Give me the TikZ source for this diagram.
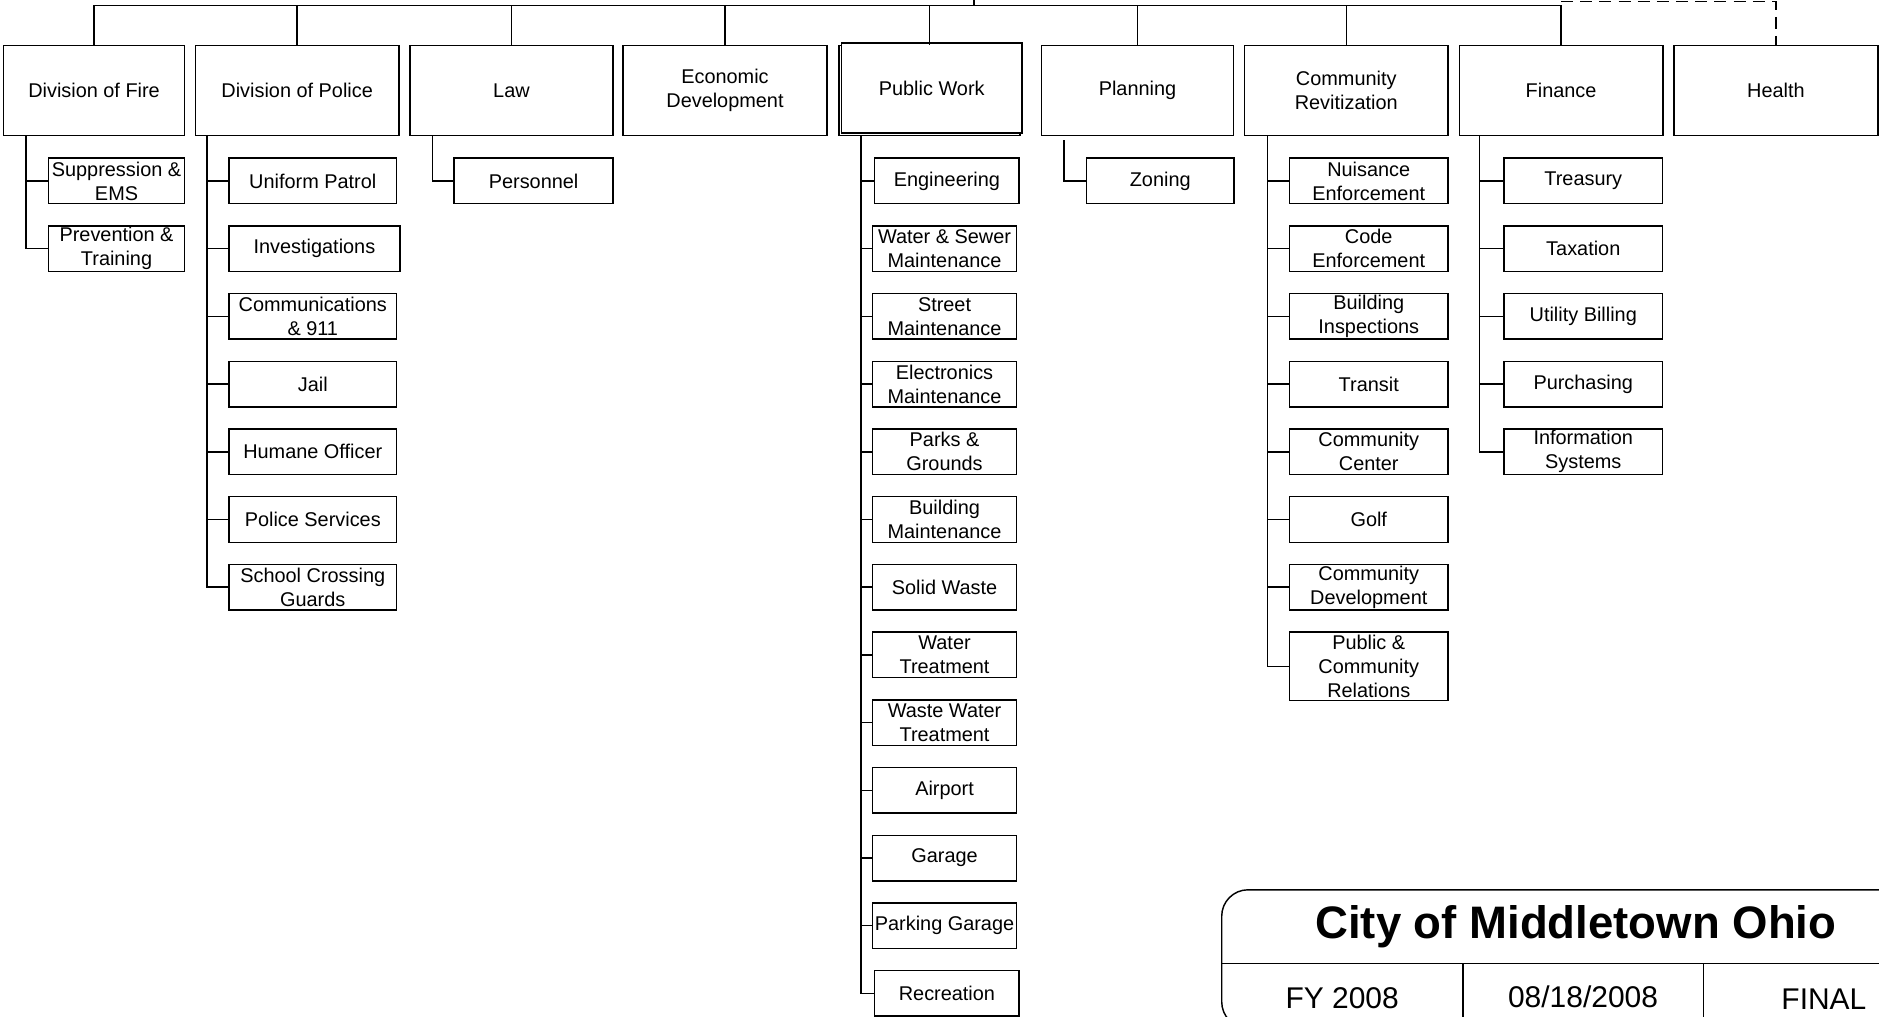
\documentclass[tikz,border=0pt]{standalone}
\usepackage{fontspec}
\setmainfont{Liberation Sans}
\begin{document}
\begin{tikzpicture}[x=0.5pt,y=-0.5pt, line width=0.6pt,
  every node/.style={inner sep=0pt, align=center, font=\fontsize{8.3}{10}\selectfont},
  topbox/.style={draw, minimum height=37.5pt, fill=white},
  subbox/.style={draw, minimum height=19pt},
  fires/.style={subbox, minimum width=56.75pt},
  pols/.style={subbox, minimum width=70pt},
  pws/.style={subbox, minimum width=60.25pt},
  crs/.style={subbox, minimum width=66.25pt},
  fins/.style={subbox, minimum width=66.25pt},
  dashlink/.style={dash pattern=on 5pt off 3pt}]
\useasboundingbox (0,0) rectangle (1568,848);
\clip (0,0) rectangle (1568,848);

% top level
\node[topbox, minimum width=75.5pt] (fire) at (78.5,75.5) {Division of Fire};
\node[topbox, minimum width=85pt] (police) at (248,75.5) {Division of Police};
\node[topbox, minimum width=84.8pt] (law) at (426.8,75.5) {Law};
\node[topbox, minimum width=85pt] (econ) at (605,75.5) {Economic\\Development};
\node[topbox, minimum width=75.5pt] (pwback) at (775.5,75.5) {};
\node[topbox, minimum width=75.5pt] (pw) at (777.5,73.5) {Public Work};
\node[topbox, minimum width=80.25pt] (planning) at (949.2,75.5) {Planning};
\node[topbox, minimum width=85pt] (comrev) at (1123.4,75.5) {Community\\Revitization};
\node[topbox, minimum width=85pt] (finance) at (1302.7,75.5) {Finance};
\node[topbox, minimum width=85pt] (health) at (1482,75.5) {Health};

% bus
\coordinate (root) at (812.8,0);
\coordinate (bus) at (812.8,4.5);
\coordinate (dashy) at (1302.7,1.3);
\draw (root) -- (bus);
\draw (fire.north |- bus) -- (finance.north |- bus);
\foreach \n in {fire,police,law,econ,pwback,planning,comrev,finance}
  \draw (\n.north |- bus) -- (\n.north);
\draw[dashlink] (finance.north |- dashy) -| (health.north);

% fire
\node[fires] (sup) at (97.25,151) {Suppression \&\\EMS};
\node[fires] (prev) at (97.25,207.5) {Prevention \&\\Training};
\coordinate (fireB) at (21.8,113);
\foreach \c in {sup,prev} \draw (fireB) |- (\c.west);

% police
\node[pols] (up) at (261,151) {Uniform Patrol};
\node[subbox, minimum width=71.4pt] (inv) at (262.4,207.5) {Investigations};
\node[pols] (comm) at (261,264) {Communications\\\& 911};
\node[pols] (jail) at (261,320.5) {Jail};
\node[pols] (hum) at (261,377) {Humane Officer};
\node[pols] (ps) at (261,433.5) {Police Services};
\node[pols] (scg) at (261,490) {School Crossing\\Guards};
\coordinate (polB) at (172.7,113);
\foreach \c in {up,inv,comm,jail,hum,ps,scg} \draw (polB) |- (\c.west);

% law
\node[subbox, minimum width=66.3pt] (pers) at (445.3,151) {Personnel};
\coordinate (lawB) at (360.7,113);
\draw (lawB) |- (pers.west);

% public work
\node[pws] (eng) at (790.2,151) {Engineering};
\node[pws] (ws) at (788.2,207.5) {Water \& Sewer\\Maintenance};
\node[pws] (st) at (788.2,264) {Street\\Maintenance};
\node[pws] (el) at (788.2,320.5) {Electronics\\Maintenance};
\node[pws] (pg) at (788.2,377) {Parks \&\\Grounds};
\node[pws] (bm) at (788.2,433.5) {Building\\Maintenance};
\node[pws] (sw) at (788.2,490) {Solid Waste};
\node[pws] (wt) at (788.2,546.5) {Water\\Treatment};
\node[pws] (wwt) at (788.2,603) {Waste Water\\Treatment};
\node[pws] (air) at (788.2,659.5) {Airport};
\node[pws] (gar) at (788.2,716) {Garage};
\node[pws] (pkg) at (788.2,772.5) {Parking Garage};
\node[pws] (rec) at (790.2,829) {Recreation};
\coordinate (pwB) at (718.5,113);
\foreach \c in {eng,ws,st,el,pg,bm,sw,wt,wwt,air,gar,pkg,rec} \draw (pwB) |- (\c.west);

% planning
\node[subbox, minimum width=61.5pt] (zon) at (968.2,151) {Zoning};
\coordinate (plB) at (888,117);
\draw (plB) |- (zon.west);

% community revitization
\node[crs] (nui) at (1142.2,151) {Nuisance\\Enforcement};
\node[crs] (code) at (1142.2,207.5) {Code\\Enforcement};
\node[crs] (bi) at (1142.2,264) {Building\\Inspections};
\node[crs] (tr) at (1142.2,320.5) {Transit};
\node[crs] (cc) at (1142.2,377) {Community\\Center};
\node[crs] (golf) at (1142.2,433.5) {Golf};
\node[crs] (cd) at (1142.2,490) {Community\\Development};
\node[crs, minimum height=28.5pt] (pcr) at (1142.2,556) {Public \&\\Community\\Relations};
\coordinate (crB) at (1057.6,113);
\foreach \c in {nui,code,bi,tr,cc,golf,cd,pcr} \draw (crB) |- (\c.west);

% finance
\node[fins] (tre) at (1321.2,151) {Treasury};
\node[fins] (tax) at (1321.2,207.5) {Taxation};
\node[fins] (ub) at (1321.2,264) {Utility Billing};
\node[fins] (pur) at (1321.2,320.5) {Purchasing};
\node[fins] (is) at (1321.2,377) {Information\\Systems};
\coordinate (finB) at (1234.8,113);
\foreach \c in {tre,tax,ub,pur,is} \draw (finB) |- (\c.west);

% title block
\draw[rounded corners=11pt] (1019.5,742.5) rectangle (1640,858);
\draw (1019.5,804) -- (1640,804);
\draw (1220.8,804) -- (1220.8,858);
\draw (1421.4,804) -- (1421.4,858);
\node[font=\bfseries\fontsize{19}{22}\selectfont] (title) at (1315,773) {City of Middletown Ohio};
\node[font=\fontsize{12.5}{15}\selectfont] (fy) at (1120,833) {FY 2008};
\node[font=\fontsize{12.5}{15}\selectfont] (date) at (1321,832) {08/18/2008};
\node[font=\fontsize{12.5}{15}\selectfont] (final) at (1522,834) {FINAL};
\end{tikzpicture}
\end{document}
